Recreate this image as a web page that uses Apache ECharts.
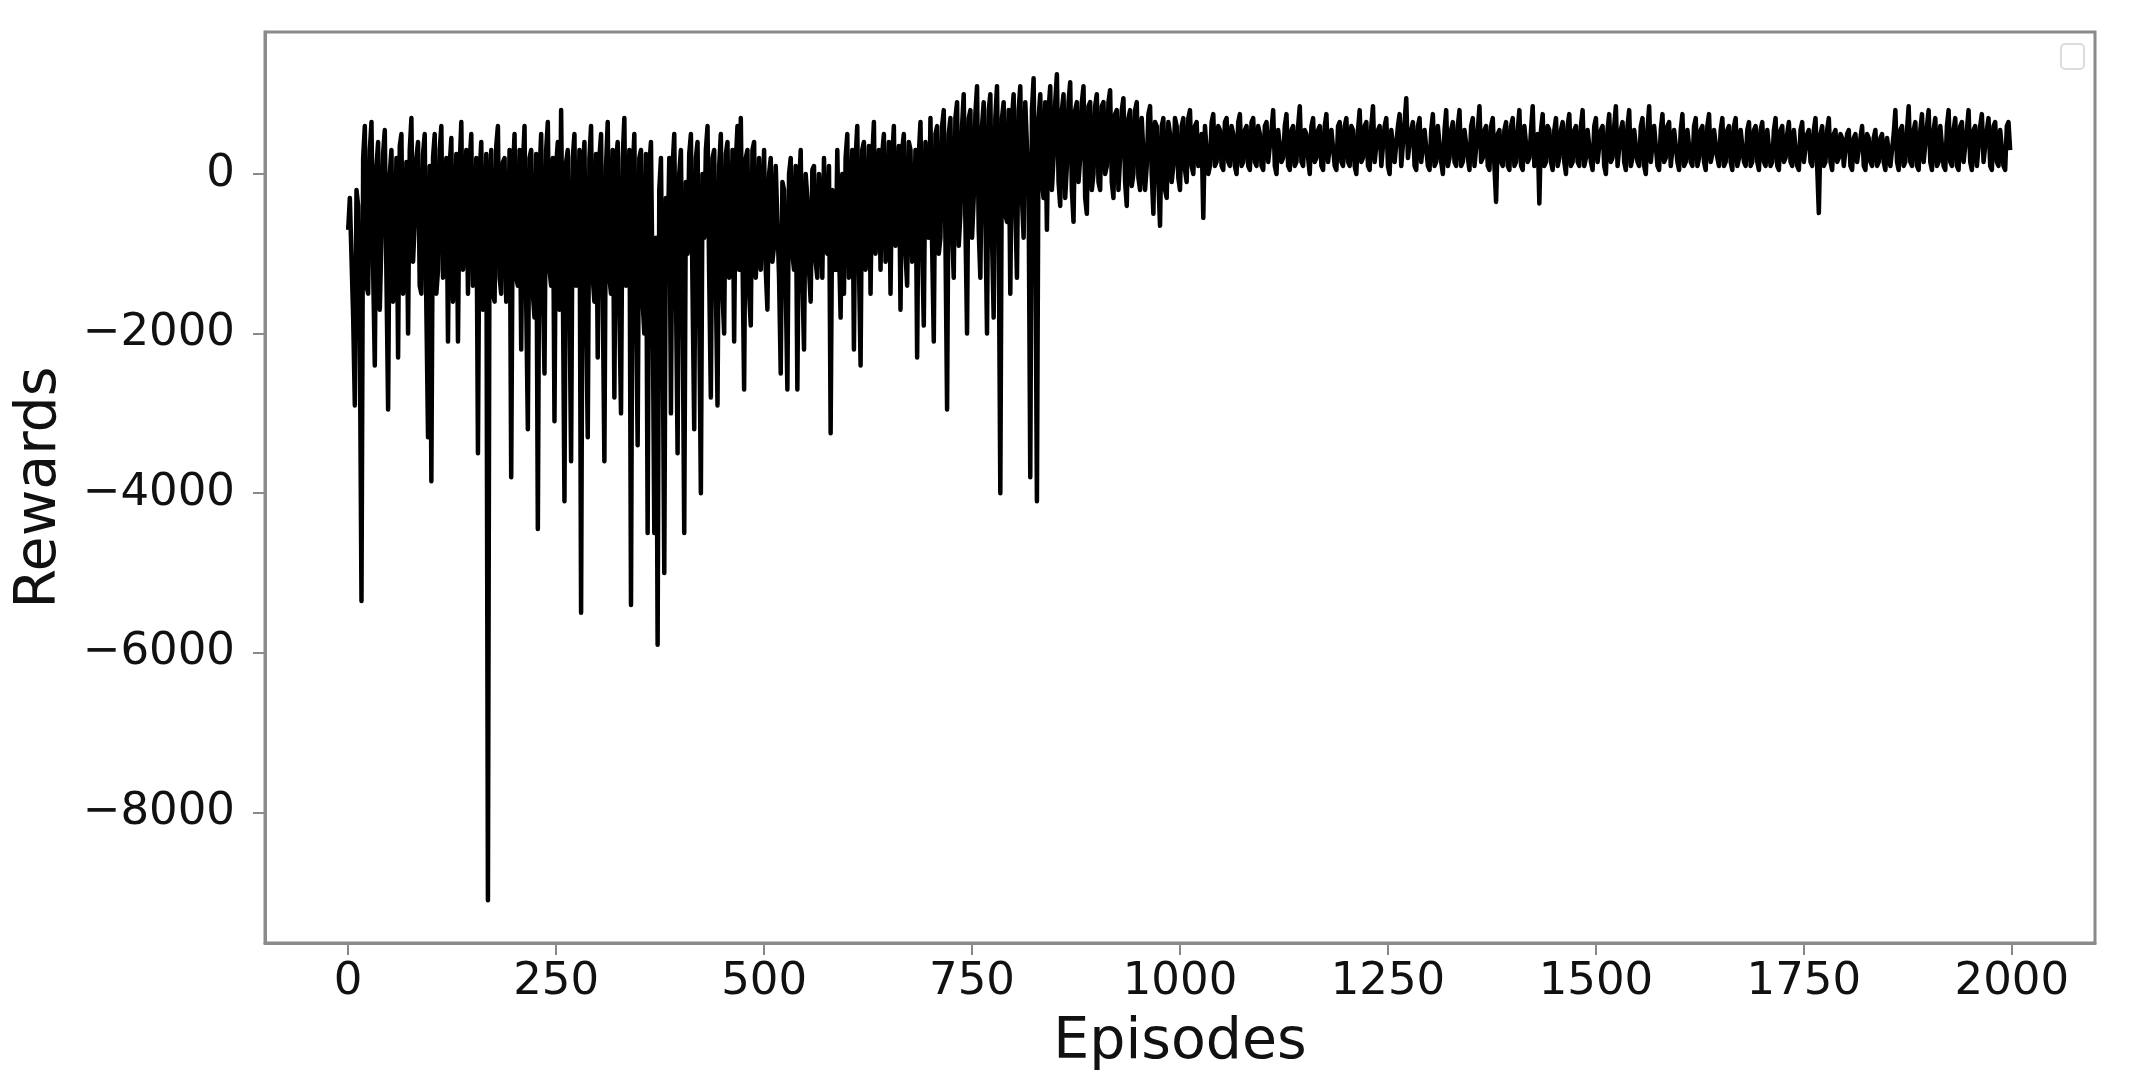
<!DOCTYPE html>
<html>
<head>
<meta charset="utf-8">
<script src="https://cdn.jsdelivr.net/npm/echarts@6/dist/echarts.min.js"></script>
<style>
html,body{margin:0;padding:0;background:#fff;}
#chart{width:2132px;height:1092px;}
</style>
</head>
<body>
<div id="chart"></div>
<script>
// Data are sampled every 2 episodes: "A" arrays hold episodes 0,4,8,...,
// "B" arrays hold the episodes in between (2,6,10,...). 25 values per 100 episodes.
const episodeStep = 2;

// Rewards (episodes 4k)
const rewardsA0 = [-700,-300,-2900,-400,-5350,600,-1500,650,-2400,400,-800,550,-2950,300,-1200,-2300,500,-1000,-2000,700,-600,400,-1500,500,-3300];
const rewardsA1 = [-3850,500,-1200,600,-800,-2100,450,-1000,-2100,650,-700,-1500,500,-1300,-3500,400,-900,-9100,300,-1600,600,-1500,200,-1100,-3800];
const rewardsA2 = [500,-1400,-2200,600,-3200,300,-1800,-4450,500,-2500,650,-1400,-3100,400,800,-4100,300,-3600,500,-1200,-5500,400,-3300,600,-1600];
const rewardsA3 = [-2300,500,-3600,650,-1500,-2800,400,-3000,700,-1200,-5400,500,-3400,300,-2000,-4500,400,-4500,-5900,200,-5000,-1000,-3000,500,-3500];
const rewardsA4 = [300,-4500,-1000,500,-3200,400,-4000,-800,600,-2800,300,-2900,500,-2000,400,-1200,-2100,600,700,-2700,300,-1900,400,-800,-1200];
const rewardsA5 = [300,-1700,200,-900,100,-2500,-200,-2700,200,-1200,-2700,300,-2200,-300,-1600,100,-1300,-400,200,-1000,-3250,-300,300,-1800,-1500];
const rewardsA6 = [500,-1000,-2200,600,-2400,400,-800,-1500,650,-500,-1200,500,-900,-1500,600,-600,-1700,500,-1400,300,-700,-2300,650,-1900,400];
const rewardsA7 = [700,-2100,600,-800,800,-2950,700,-1300,900,-500,1000,-2000,800,-300,1100,-1300,900,-2000,1000,-1800,1100,-4000,900,-600,-1500];
const rewardsA8 = [1000,-1300,1100,-800,900,-3800,1200,-4100,1000,-300,-700,1100,200,1250,-400,1000,100,1150,-600,900,200,1100,-500,900,0];
const rewardsA9 = [1000,-200,900,100,1050,-300,800,200,950,-400,800,0,900,-200,700,100,850,-500,600,-650,700,-300,500,100,600];
const rewardsA10 = [-200,700,-100,800,0,650,200,-550,600,100,750,150,550,50,700,100,500,0,750,150,600,50,700,100,500];
const rewardsA11 = [50,650,150,800,0,550,200,750,50,600,150,850,100,500,0,700,200,600,50,750,150,550,50,650,100];
const rewardsA12 = [700,100,550,0,800,200,650,50,850,150,600,100,700,0,550,150,750,100,950,200,650,50,700,150,550];
const rewardsA13 = [50,750,150,600,0,800,200,650,100,800,150,550,50,700,100,850,200,600,50,700,-350,550,100,650,50];
const rewardsA14 = [700,150,800,50,600,200,850,100,-370,750,150,550,50,700,200,650,0,750,150,600,100,800,200,550,50];
const rewardsA15 = [700,150,600,0,750,200,850,100,650,50,800,200,550,100,700,0,850,150,600,50,750,200,650,100,550];
const rewardsA16 = [50,750,150,550,100,700,200,600,50,750,250,550,100,700,150,600,50,700,200,550,100,650,150,600,50];
const rewardsA17 = [650,100,550,150,700,50,600,200,650,100,550,50,650,150,550,100,700,-490,600,150,700,50,550,200,450];
const rewardsA18 = [100,550,50,500,150,600,50,450,100,550,150,500,50,450,100,800,50,600,150,850,100,650,50,750,150];
const rewardsA19 = [800,50,700,150,600,50,800,100,700,50,650,150,800,50,600,100,750,150,700,50,650,100,550,50,650];

// Rewards (episodes 4k+2, the dense core of the band)
const rewardsB0 = [-300,-1800,-200,-2000,200,-1400,300,-1200,100,-1700,250,-1300,0,-1600,200,350,-1500,150,300,-1100,200,-1400,250,-1700,100];
const rewardsB1 = [200,-1500,300,-1300,200,100,-1600,250,100,-1200,300,150,-1400,200,0,-1700,250,-200,-1500,350,-1300,150,-1600,300,0];
const rewardsB2 = [-1300,300,100,-1600,200,-1500,250,0,-1400,300,-1200,200,100,-1700,-1300,150,-1500,200,-1400,300,0,-1600,200,-1300,250];
const rewardsB3 = [200,-1500,100,-1300,300,150,-1700,200,-1400,300,0,-1500,200,-1600,250,100,-1500,-800,-200,-1800,-300,200,100,-1400,0];
const rewardsB4 = [-1600,-100,250,-1500,200,-1700,0,300,-1300,200,-1400,100,-1500,250,-1300,300,150,-1200,-1000,200,-1500,300,-1300,200,-600];
const rewardsB5 = [-1200,0,-1100,100,-1300,-100,-1400,0,-1000,100,-200,-1300,0,-1200,50,-1100,0,-1300,-900,100,-200,-1200,-900,0,200];
const rewardsB6 = [-1300,300,200,-1100,300,-1200,350,200,-1000,300,250,-1100,400,200,-900,350,300,-1000,400,-1100,300,250,-900,400,-800];
const rewardsB7 = [-900,500,-1000,600,-800,500,-700,700,-900,600,-600,700,-800,750,-700,600,-500,800,-800,700,-600,700,-500,800,700];
const rewardsB8 = [-400,800,-300,900,-200,800,-500,700,-100,900,800,-200,900,-100,800,-300,900,-200,800,-100,900,-300,850,-200,850];
const rewardsB9 = [-100,850,0,900,-100,750,-200,800,-100,700,-150,800,-50,700,-200,750,0,650,-100,600,-200,650,-100,700,-50];
const rewardsB10 = [600,50,700,100,600,100,500,600,0,650,100,600,100,650,150,600,100,650,100,550,100,650,150,600,100];
const rewardsB11 = [600,150,550,100,550,150,600,100,550,100,600,150,550,200,600,150,550,100,600,150,550,100,600,150,600];
const rewardsB12 = [150,600,100,550,150,600,100,600,150,550,100,600,100,550,150,600,100,650,200,550,100,600,150,550,100];
const rewardsB13 = [550,100,600,150,550,100,550,150,600,100,550,200,600,100,550,150,550,100,600,100,500,150,550,100,600];
const rewardsB14 = [100,550,100,600,150,550,100,500,550,100,600,150,550,100,550,150,600,100,550,150,600,100,550,150,600];
const rewardsB15 = [150,550,100,550,150,600,100,550,150,600,100,550,150,600,100,550,150,600,100,550,150,600,100,550,150];
const rewardsB16 = [550,100,550,150,600,100,550,150,600,150,550,200,550,100,550,150,600,100,550,150,550,100,550,150,550];
const rewardsB17 = [150,550,100,550,100,550,150,500,150,550,100,550,150,500,150,550,100,500,100,550,150,500,150,500,100];
const rewardsB18 = [500,100,450,150,450,100,500,150,450,100,450,150,450,100,500,150,550,100,550,150,550,100,550,150,600];
const rewardsB19 = [150,550,100,600,100,600,150,550,100,600,150,550,150,550,100,600,150,550,100,600,150,550,100,600,300];

// Axis tick values
const xTicks = [0, 250, 500, 750, 1000, 1250, 1500, 1750, 2000];
const yTicks = [-8000, -6000, -4000, -2000, 0];

const groupsA = [rewardsA0, rewardsA1, rewardsA2, rewardsA3, rewardsA4, rewardsA5, rewardsA6, rewardsA7, rewardsA8, rewardsA9,
  rewardsA10, rewardsA11, rewardsA12, rewardsA13, rewardsA14, rewardsA15, rewardsA16, rewardsA17, rewardsA18, rewardsA19];
const groupsB = [rewardsB0, rewardsB1, rewardsB2, rewardsB3, rewardsB4, rewardsB5, rewardsB6, rewardsB7, rewardsB8, rewardsB9,
  rewardsB10, rewardsB11, rewardsB12, rewardsB13, rewardsB14, rewardsB15, rewardsB16, rewardsB17, rewardsB18, rewardsB19];
const rewards = [];
groupsA.forEach((ga, g) => {
  ga.forEach((v, i) => { rewards.push(v); rewards.push(groupsB[g][i]); });
});
const seriesData = rewards.map((v, i) => [i * episodeStep, v]);

const axisGray = '#8a8a8a';
const fontFam = "'DejaVu Sans', sans-serif";

const chart = echarts.init(document.getElementById('chart'), null, {renderer: 'canvas'});
chart.setOption({
  animation: false,
  backgroundColor: '#ffffff',
  grid: {
    left: 265, right: 37, top: 32, bottom: 149,
    show: true, borderColor: axisGray, borderWidth: 3, backgroundColor: 'transparent'
  },
  xAxis: {
    type: 'value',
    min: -100, max: 2100,
    name: 'Episodes',
    nameLocation: 'middle',
    nameGap: 72,
    nameTextStyle: {fontFamily: fontFam, fontSize: 57, color: '#111'},
    axisLine: {show: true, onZero: false, lineStyle: {color: axisGray, width: 3}},
    axisTick: {show: true, customValues: xTicks, length: 12, lineStyle: {color: axisGray, width: 2}},
    axisLabel: {
      customValues: xTicks, fontFamily: fontFam, fontSize: 45, color: '#111', margin: 17,
      formatter: v => String(v)
    },
    splitLine: {show: false}
  },
  yAxis: {
    type: 'value',
    min: -9637, max: 1779,
    name: 'Rewards',
    nameLocation: 'middle',
    nameGap: 196,
    nameRotate: 90,
    nameTextStyle: {fontFamily: fontFam, fontSize: 57, color: '#111'},
    axisLine: {show: true, onZero: false, lineStyle: {color: axisGray, width: 3}},
    axisTick: {show: true, customValues: yTicks, length: 12, lineStyle: {color: axisGray, width: 2}},
    axisLabel: {
      customValues: yTicks, fontFamily: fontFam, fontSize: 45, color: '#111', margin: 30,
      formatter: v => (v < 0 ? '\u2212' + Math.abs(v) : String(v))
    },
    splitLine: {show: false}
  },
  graphic: [{
    type: 'rect',
    shape: {x: 2061, y: 44, width: 23, height: 25, r: 4},
    style: {fill: '#ffffff', stroke: '#dcdcdc', lineWidth: 2}
  }],
  series: [{
    type: 'line',
    data: seriesData,
    showSymbol: false,
    symbol: 'none',
    sampling: null,
    lineStyle: {color: '#000000', width: 4.5, join: 'round', cap: 'butt'},
    clip: true
  }]
});
</script>
</body>
</html>
